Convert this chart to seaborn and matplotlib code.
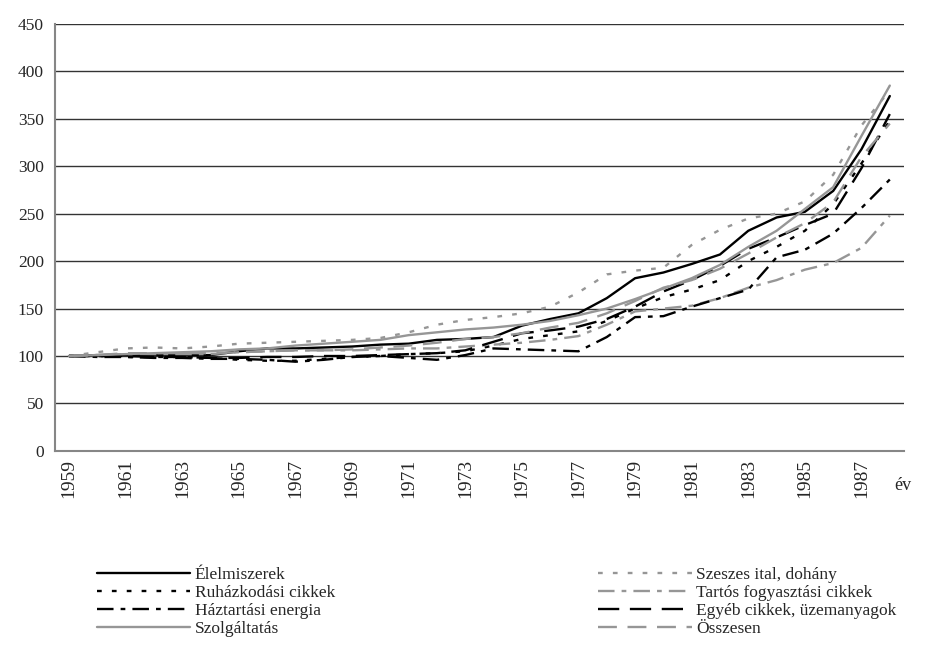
import numpy as np
import pandas as pd
import matplotlib
matplotlib.use("Agg")
import matplotlib.pyplot as plt
import seaborn as sns
from matplotlib.lines import Line2D
from matplotlib.ticker import FixedLocator

# fogyasztói árindexek, 1959 = 100
years = list(range(1959, 1989))

elelmiszerek = [100, 101, 101, 101, 101, 101, 105, 108, 108, 109, 110, 112, 113, 117, 118, 120,
                132, 139, 145, 161, 182, 188, 197, 207, 232, 246, 252, 274, 318, 374]
szeszes = [100, 104, 108, 109, 108, 110, 113, 114, 115, 116, 117, 119, 125, 133, 138, 141,
           145, 152, 167, 186, 190, 193, 217, 233, 245, 250, 263, 291, 343, 380]
ruhazkodasi = [100, 100, 99, 99, 99, 98, 96, 95, 95, 97, 99, 100, 102, 103, 105, 111,
               118, 122, 126, 137, 150, 162, 170, 180, 200, 215, 232, 260, 303, 348]
tartos = [100, 101, 102, 102, 102, 102, 104, 105, 106, 106, 106, 107, 108, 108, 110, 112,
          114, 117, 121, 133, 147, 150, 153, 161, 172, 180, 191, 198, 214, 248]
haztartasi_energia = [100, 99, 99, 98, 98, 97, 97, 96, 94, 96, 99, 100, 98, 96, 101, 108,
                      107, 106, 105, 120, 141, 142, 152, 161, 170, 204, 212, 229, 256, 286]
egyeb = [100, 100, 100, 99, 99, 98, 98, 99, 99, 100, 100, 101, 102, 103, 106, 115,
         124, 127, 131, 139, 152, 168, 180, 195, 213, 225, 238, 250, 298, 355]
szolgaltatas = [100, 101, 102, 103, 104, 105, 107, 108, 111, 113, 115, 117, 122, 125, 128, 130,
                133, 137, 143, 150, 160, 171, 182, 196, 215, 232, 255, 278, 332, 385]
osszesen = [100, 101, 103, 103, 103, 103, 104, 105, 106, 106, 107, 109, 111, 114, 118, 120,
            124, 130, 135, 145, 158, 172, 180, 192, 208, 225, 240, 262, 310, 345]

names = ["Élelmiszerek", "Szeszes ital, dohány", "Ruházkodási cikkek",
         "Tartós fogyasztási cikkek", "Háztartási energia", "Egyéb cikkek, üzemanyagok",
         "Szolgáltatás", "Összesen"]
series = [elelmiszerek, szeszes, ruhazkodasi, tartos, haztartasi_energia, egyeb,
          szolgaltatas, osszesen]

black = "#000000"
grey = "#969696"
colors = dict(zip(names, [black, grey, black, grey, black, black, grey, grey]))
dash_styles = dict(zip(names, ["", (2, 4.3), (2, 4.3), (7, 3, 2, 3), (7, 3, 2, 3),
                               (9, 4.5), "", (8, 4.5)]))

df = pd.DataFrame({
    "ev": years * len(names),
    "ertek": sum(series, []),
    "sorozat": np.repeat(names, len(years)),
})

sns.set_style("white")
plt.rcParams["font.family"] = ["Liberation Serif", "DejaVu Serif"]

fig = plt.figure(figsize=(9.3, 6.46), dpi=100)
ax = fig.add_axes([0.059, 0.302, 0.913, 0.661])

lw = 1.7
sns.lineplot(data=df, x="ev", y="ertek", hue="sorozat", style="sorozat",
             hue_order=names, style_order=names, palette=colors, dashes=dash_styles,
             linewidth=lw, legend=False, ax=ax)

ax.set_xlim(1958.5, 1988.5)
ax.set_ylim(0, 450)
ax.set_xlabel("")
ax.set_ylabel("")

ax.yaxis.set_major_locator(FixedLocator(range(0, 451, 50)))
ax.yaxis.grid(True, color="#333333", linewidth=1.0)
ax.set_axisbelow(True)

ax.xaxis.set_major_locator(FixedLocator(years[::2]))
ax.set_xticklabels([str(y) for y in years[::2]], rotation=90)
ax.xaxis.set_minor_locator(FixedLocator(np.arange(1958.5, 1989, 1)))
ax.tick_params(axis="x", which="major", length=0, pad=6, labelsize=14)
ax.tick_params(axis="x", which="minor", length=5, width=1.2, color="#868686", direction="out")
ax.tick_params(axis="y", length=5, width=1.2, color="#868686", direction="out", labelsize=12.5, pad=3)

for side in ["top", "right"]:
    ax.spines[side].set_visible(False)
for side in ["left", "bottom"]:
    ax.spines[side].set_color("#868686")
    ax.spines[side].set_linewidth(1.5)

fig.text(0.962, 0.249, "év", fontsize=13, ha="left", va="center")

handles = [Line2D([], [], color=colors[n], linewidth=lw,
                  linestyle="-" if dash_styles[n] == "" else (0, dash_styles[n]))
           for n in names]

leg_kw = dict(loc="upper left", frameon=False, fontsize=12.5, handlelength=5.4,
              handletextpad=0.25, labelspacing=0.12, borderpad=0, borderaxespad=0)
fig.legend(handles[0::2], names[0::2], bbox_to_anchor=(0.104, 0.123), **leg_kw)
fig.legend(handles[1::2], names[1::2], bbox_to_anchor=(0.643, 0.123), **leg_kw)

fig.savefig("out.png", dpi=100)
